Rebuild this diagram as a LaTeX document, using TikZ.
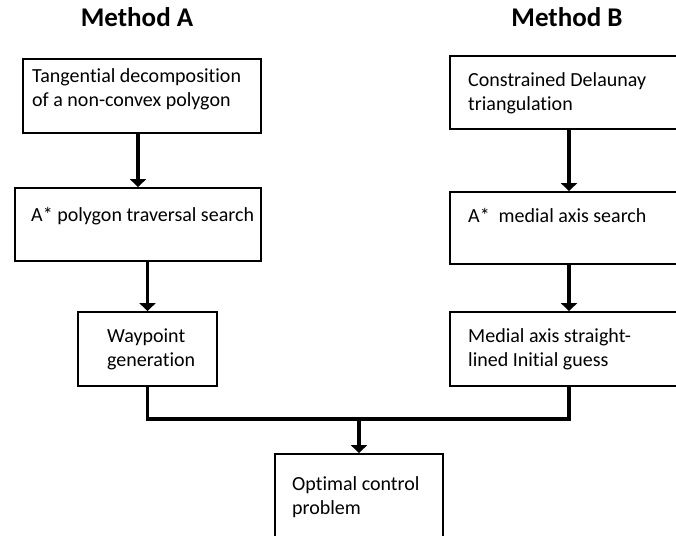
\documentclass[tikz,border=0pt]{standalone}
\usepackage{fontspec}
\setmainfont[Ligatures=NoCommon]{Carlito}
\usetikzlibrary{arrows.meta}
\begin{document}
\begin{tikzpicture}[x=1pt,y=1pt,
  box/.style={draw=black,line width=1.8pt,minimum width=#1,inner sep=0pt},
  txt/.style={anchor=base west,inner sep=0pt,align=left,font=\fontsize{20}{24}\selectfont},
  ttl/.style={anchor=base,inner sep=0pt,font=\fontsize{27}{30}\selectfont\bfseries},
  arr/.style={line width=3.2pt,-{Triangle[width=16pt,length=8pt]}},
  con/.style={line width=3.2pt}]
\useasboundingbox (0,0) rectangle (676,535);
\clip (0,0) rectangle (676,535);
% titles
\node[ttl] (ta) at (137,508) {Method A};
\node[ttl] (tb) at (567,508) {Method B};
% boxes
\node[box=238pt,minimum height=74pt] (a1) at (142,439) {};
\node[box=246pt,minimum height=73pt] (a2) at (138,310.5) {};
\node[box=139pt,minimum height=74pt] (a3) at (147.5,186) {};
\node[box=238pt,minimum height=73pt] (b1) at (569,442.5) {};
\node[box=238pt,minimum height=72pt] (b2) at (569,307) {};
\node[box=238pt,minimum height=74pt] (b3) at (569,186) {};
\node[box=168pt,minimum height=100pt] (oc) at (359,31) {};
% texts (base anchor = last line baseline)
\node[txt] (ta1) at (32,428) {Tangential decomposition\\of a non-convex polygon};
\node[txt] (ta2) at (31,313) {A* polygon traversal search};
\node[txt] (ta3) at (107,168) {Waypoint\\generation};
\node[txt] (tb1) at (468,424) {Constrained Delaunay\\triangulation};
\node[txt] (tb2) at (468,312) {A*\hspace{0.45em}medial axis search};
\node[txt] (tb3) at (468,168) {Medial axis straight-\\lined Initial guess};
\node[txt] (toc) at (292,21) {Optimal control\\problem};
% connectors
\draw[arr] (a1.south -| a2.north) -- (a2.north);
\draw[arr] (a2.south -| a3.north) -- (a3.north);
\draw[arr] (b1.south) -- (b2.north);
\draw[arr] (b2.south) -- (b3.north);
\coordinate (j) at (359,116);
\draw[con] (a3.south) |- (j) -| (b3.south);
\draw[arr] (j) -- (oc.north);
\end{tikzpicture}
\end{document}
